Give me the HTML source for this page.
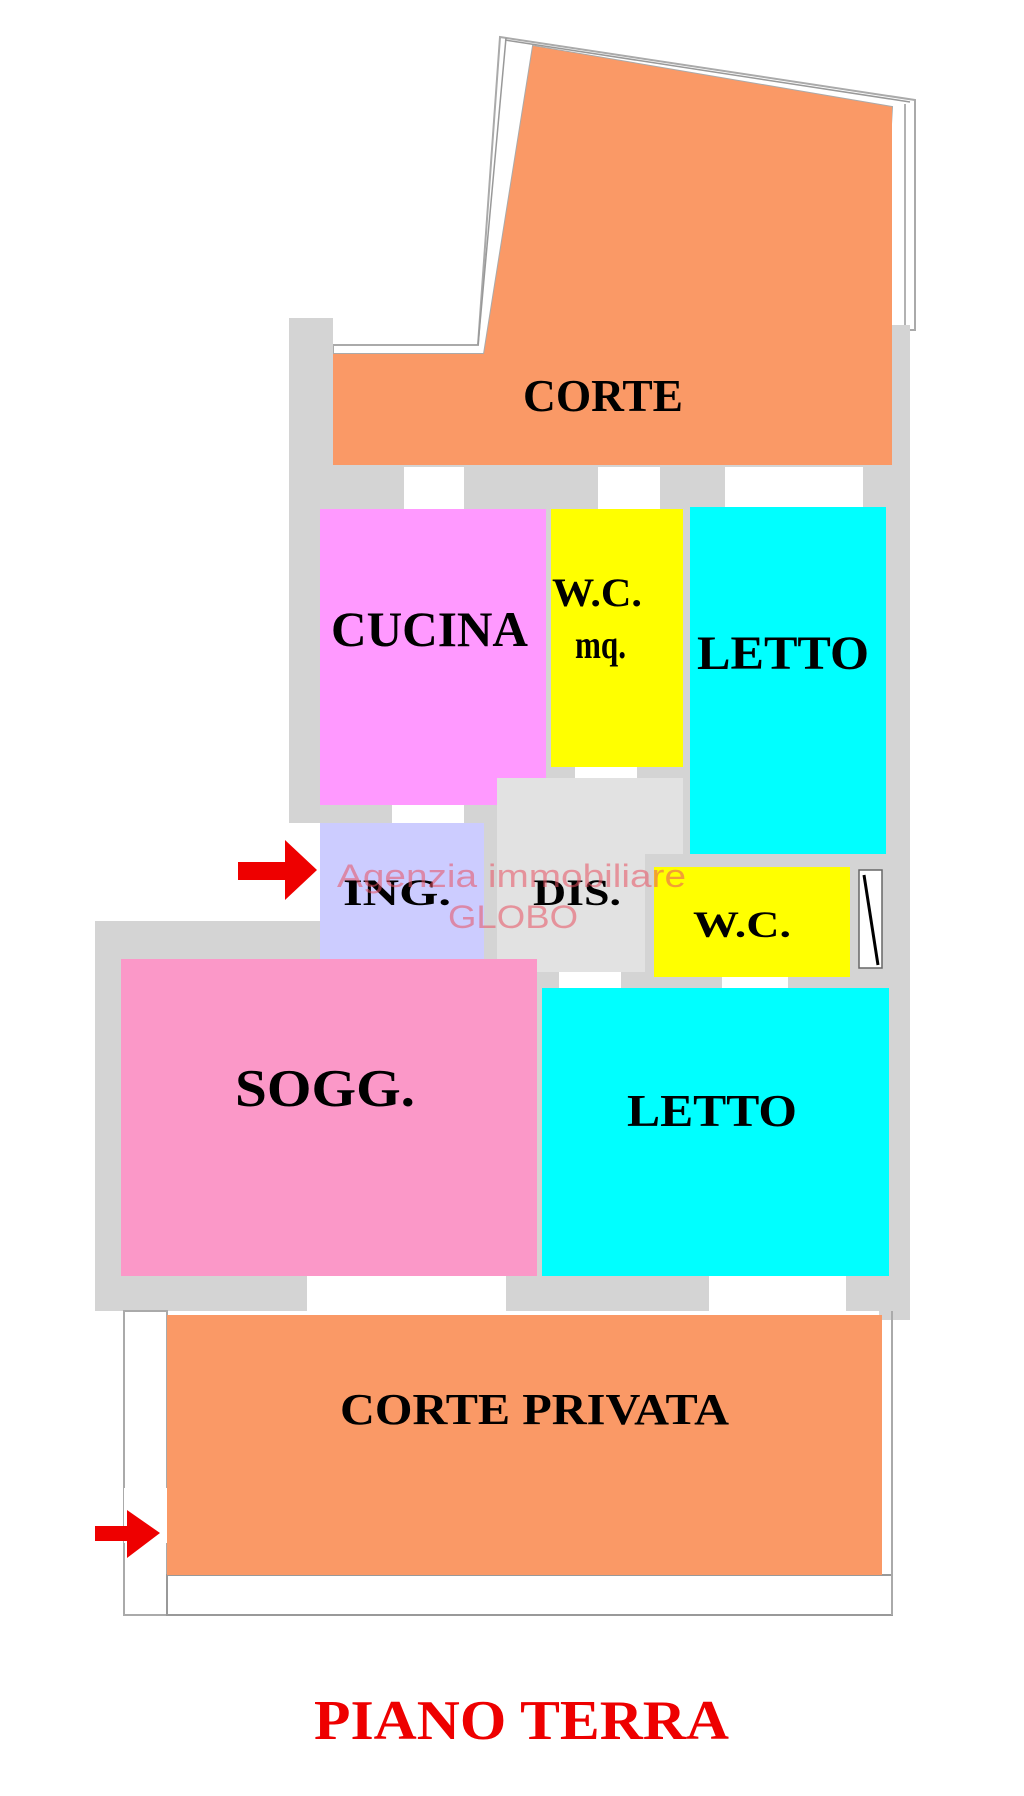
<!DOCTYPE html>
<html><head><meta charset="utf-8"><style>html,body{margin:0;padding:0;background:#fff}svg{display:block}</style></head>
<body>
<svg width="1024" height="1796" viewBox="0 0 1024 1796" xmlns="http://www.w3.org/2000/svg" font-family="'Liberation Serif', serif" font-weight="bold">
<!-- top corte frame -->
<polygon points="500,37 915,100 915,330 879,330 892,107 533,46 484,354 333,354 333,345 478,345" fill="#fff" stroke="#aaa" stroke-width="2"/>
<line x1="506" y1="38" x2="478" y2="345" stroke="#999" stroke-width="1.5"/>
<line x1="505" y1="40" x2="910" y2="102" stroke="#999" stroke-width="1.5"/>
<line x1="905" y1="104" x2="905" y2="330" stroke="#999" stroke-width="1.5"/>
<!-- walls -->
<rect x="289" y="318" width="44" height="505" fill="#d4d4d4"/>
<rect x="879" y="325" width="31" height="995" fill="#d4d4d4"/>
<rect x="320" y="463" width="570" height="500" fill="#d4d4d4"/>
<rect x="95" y="921" width="815" height="390" fill="#d4d4d4"/>
<rect x="289" y="823" width="31" height="98" fill="#fff"/>
<!-- corte -->
<polygon points="533,46 892,107 892,465 333,465 333,354 484,354" fill="#fa9966"/>
<!-- window gaps -->
<rect x="404" y="467" width="60" height="42" fill="#fff"/>
<rect x="598" y="467" width="62" height="42" fill="#fff"/>
<rect x="725" y="467" width="138" height="40" fill="#fff"/>
<rect x="392" y="805" width="72" height="18" fill="#fff"/>
<rect x="575" y="767" width="62" height="11" fill="#fff"/>
<rect x="559" y="972" width="62" height="16" fill="#fff"/>
<rect x="722" y="977" width="66" height="11" fill="#fff"/>
<rect x="307" y="1276" width="199" height="36" fill="#fff"/>
<rect x="709" y="1276" width="137" height="36" fill="#fff"/>
<!-- rooms -->
<rect x="320" y="509" width="226" height="296" fill="#ff99ff"/>
<rect x="551" y="509" width="132" height="258" fill="#ffff00"/>
<rect x="690" y="507" width="196" height="347" fill="#00ffff"/>
<rect x="320" y="823" width="164" height="136" fill="#ccccff"/>
<polygon points="497,778 683,778 683,854 645,854 645,972 497,972" fill="#e2e2e2"/>
<rect x="654" y="867" width="196" height="110" fill="#ffff00"/>
<rect x="859" y="870" width="23" height="98" fill="#fff" stroke="#666" stroke-width="1.5"/>
<line x1="864" y1="875" x2="878" y2="965" stroke="#000" stroke-width="3"/>
<rect x="121" y="959" width="416" height="317" fill="#fb98c8"/>
<rect x="542" y="988" width="347" height="288" fill="#00ffff"/>
<!-- corte privata -->
<rect x="124" y="1311" width="43" height="304" fill="#fff" stroke="#aaa" stroke-width="2"/>
<rect x="124" y="1488" width="43" height="55" fill="#fff"/>
<rect x="167" y="1575" width="725" height="40" fill="#fff" stroke="#999" stroke-width="2"/>
<line x1="892" y1="1311" x2="892" y2="1615" stroke="#aaa" stroke-width="2"/>
<rect x="167" y="1315" width="715" height="260" fill="#fa9966"/>
<!-- arrows -->
<polygon points="238,862 285,862 285,840 317,870 285,900 285,880 238,880" fill="#e00"/>
<polygon points="95,1526 127,1526 127,1510 160,1533 127,1558 127,1541 95,1541" fill="#e00"/>
<!-- labels -->
<g fill="#000">
<text x="523" y="411" font-size="45" textLength="160" lengthAdjust="spacingAndGlyphs">CORTE</text>
<text x="331" y="646" font-size="50" textLength="197" lengthAdjust="spacingAndGlyphs">CUCINA</text>
<text x="552" y="606" font-size="40" textLength="90" lengthAdjust="spacingAndGlyphs">W.C.</text>
<text x="575" y="658" font-size="40" textLength="51" lengthAdjust="spacingAndGlyphs">mq.</text>
<text x="697" y="669" font-size="48" textLength="172" lengthAdjust="spacingAndGlyphs">LETTO</text>
<text x="343" y="905" font-size="37" textLength="108" lengthAdjust="spacingAndGlyphs">ING.</text>
<text x="533" y="905" font-size="37" textLength="88" lengthAdjust="spacingAndGlyphs">DIS.</text>
<text x="693" y="937" font-size="37" textLength="98" lengthAdjust="spacingAndGlyphs">W.C.</text>
<text x="235" y="1106" font-size="53" textLength="180" lengthAdjust="spacingAndGlyphs">SOGG.</text>
<text x="627" y="1126" font-size="46" textLength="170" lengthAdjust="spacingAndGlyphs">LETTO</text>
<text x="340" y="1424" font-size="44" textLength="389" lengthAdjust="spacingAndGlyphs">CORTE  PRIVATA</text>
</g>
<g fill="#e85060" fill-opacity="0.55" font-family="'Liberation Sans', sans-serif" font-weight="normal">
<text x="337" y="887" font-size="32" textLength="349" lengthAdjust="spacingAndGlyphs">Agenzia immobiliare</text>
<text x="448" y="928" font-size="32" textLength="130" lengthAdjust="spacingAndGlyphs">GLOBO</text>
</g>
<text x="314" y="1739" font-size="56" fill="#e00" textLength="415" lengthAdjust="spacingAndGlyphs">PIANO TERRA</text>
</svg>
</body></html>
